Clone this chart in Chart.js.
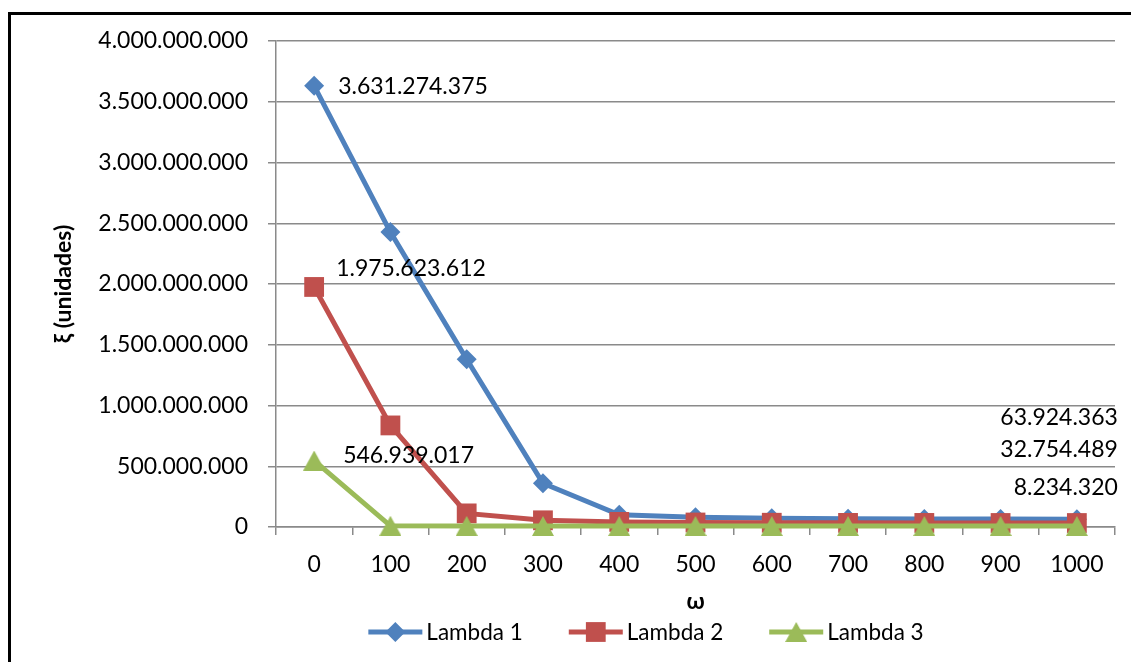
<!DOCTYPE html>
<html>
<head>
<meta charset="utf-8">
<script src="https://cdn.jsdelivr.net/npm/chart.js@4.4.1/dist/chart.umd.min.js"></script>
<style>
html, body { margin: 0; padding: 0; background: #fff; }
#wrap { position: relative; width: 1131px; height: 662px; overflow: hidden; }
#moldura { position: absolute; left: 8px; top: 12px; width: 1200px; height: 700px; border: 3px solid #000; box-sizing: border-box; }
canvas { position: absolute; left: 0; top: 0; }
</style>
</head>
<body>
<div id="wrap">
  <div id="moldura"></div>
  <canvas id="grafico" width="1131" height="662"></canvas>
</div>
<script>
// dados
const omega = ['0', '100', '200', '300', '400', '500', '600', '700', '800', '900', '1000'];
const lambda1 = [3631274375, 2427000000, 1380000000, 360000000, 100000000, 80000000, 72000000, 68000000, 66000000, 65000000, 63924363];
const lambda2 = [1975623612, 836000000, 112000000, 55000000, 42000000, 37000000, 35000000, 34000000, 33500000, 33000000, 32754489];
const lambda3 = [546939017, 10000000, 9000000, 8600000, 8500000, 8400000, 8350000, 8300000, 8280000, 8250000, 8234320];
const nomes = ['Lambda 1', 'Lambda 2', 'Lambda 3'];
const yTicks = [0, 500000000, 1000000000, 1500000000, 2000000000, 2500000000, 3000000000, 3500000000, 4000000000];

const fonte = 'Lato';
const cinza = '#8a8a8a';

// separador de milhar com ponto
const fmt = v => Math.round(v).toString().replace(/\B(?=(\d{3})+(?!\d))/g, '.');

// triangulo centrado na caixa (como no excel)
function triangulo(cor, w, h) {
    const c = document.createElement('canvas');
    c.width = w; c.height = h;
    const g = c.getContext('2d');
    g.fillStyle = cor;
    g.beginPath();
    g.moveTo(w / 2, 0);
    g.lineTo(w, h);
    g.lineTo(0, h);
    g.closePath();
    g.fill();
    return c;
}
const triVerde = triangulo('#9BBB59', 22, 20);

// legenda estilo excel: linha com marcador no meio
const legendaExcel = {
    id: 'legendaExcel',
    afterDraw(chart, args, opts) {
        const ctx = chart.ctx;
        ctx.save();
        ctx.font = opts.size + 'px ' + fonte;
        const itens = chart.data.datasets.map(ds => ({
            ds: ds,
            w: opts.lineLen + opts.gap + ctx.measureText(ds.label).width
        }));
        const total = itens.reduce((s, i) => s + i.w, 0) + opts.spacing * (itens.length - 1);
        let x = opts.centerX - total / 2;
        const y = opts.y;
        itens.forEach(it => {
            const ds = it.ds;
            ctx.strokeStyle = ds.borderColor;
            ctx.lineWidth = ds.borderWidth;
            ctx.beginPath();
            ctx.moveTo(x, y);
            ctx.lineTo(x + opts.lineLen, y);
            ctx.stroke();
            ctx.fillStyle = ds.pointBackgroundColor;
            Chart.helpers.drawPoint(ctx, { pointStyle: ds.pointStyle, radius: ds.pointRadius, borderWidth: 0, rotation: 0 }, x + opts.lineLen / 2, y);
            ctx.fillStyle = '#000';
            ctx.textAlign = 'left';
            ctx.textBaseline = 'middle';
            ctx.fillText(ds.label, x + opts.lineLen + opts.gap, y + 1);
            x += it.w + opts.spacing;
        });
        ctx.restore();
    }
};

// rotulos de dados no primeiro e ultimo ponto
const rotulos = {
    id: 'rotulos',
    afterDatasetsDraw(chart, args, opts) {
        const ctx = chart.ctx;
        ctx.save();
        ctx.font = opts.size + 'px ' + fonte;
        ctx.fillStyle = '#000';
        ctx.textBaseline = 'middle';
        opts.itens.forEach(r => {
            const pt = chart.getDatasetMeta(r.ds).data[r.idx];
            const v = chart.data.datasets[r.ds].data[r.idx];
            ctx.textAlign = r.align;
            ctx.fillText(fmt(v), pt.x + r.dx, pt.y + r.dy);
        });
        ctx.restore();
    }
};

Chart.defaults.font.family = fonte;
Chart.defaults.font.size = 23;
Chart.defaults.color = '#000';

const ctx = document.getElementById('grafico');
new Chart(ctx, {
    type: 'line',
    data: {
        labels: omega,
        datasets: [
            { label: nomes[0], data: lambda1, borderColor: '#4F81BD', pointBackgroundColor: '#4F81BD', pointStyle: 'rectRot', pointRadius: 10, order: 3 },
            { label: nomes[1], data: lambda2, borderColor: '#C0504D', pointBackgroundColor: '#C0504D', pointStyle: 'rect', pointRadius: 14, order: 2 },
            { label: nomes[2], data: lambda3, borderColor: '#9BBB59', pointBackgroundColor: '#9BBB59', pointStyle: triVerde, pointRadius: 11, order: 1 }
        ].map(d => Object.assign({ borderWidth: 5, pointBorderWidth: 0, pointHoverRadius: d.pointRadius, tension: 0, clip: false }, d))
    },
    options: {
        responsive: false,
        devicePixelRatio: 1,
        animation: false,
        layout: { padding: { left: 40, top: 41, right: 16, bottom: 45 } },
        plugins: {
            legend: { display: false },
            tooltip: { enabled: false },
            legendaExcel: { size: 22.5, lineLen: 54, gap: 4, spacing: 46, centerX: 646, y: 632 },
            rotulos: {
                size: 23,
                itens: [
                    { ds: 0, idx: 0, dx: 24, dy: 1, align: 'left' },
                    { ds: 1, idx: 0, dx: 22, dy: -18, align: 'left' },
                    { ds: 2, idx: 0, dx: 29, dy: -5, align: 'left' },
                    { ds: 0, idx: 10, dx: 41, dy: -102, align: 'right' },
                    { ds: 1, idx: 10, dx: 41, dy: -73, align: 'right' },
                    { ds: 2, idx: 10, dx: 41, dy: -38, align: 'right' }
                ]
            }
        },
        scales: {
            x: {
                offset: true,
                afterFit: s => { s.height = 90; },
                grid: { offset: true, drawOnChartArea: false, drawTicks: true, tickLength: 8, color: cinza, lineWidth: 1.5 },
                border: { color: cinza, width: 1.5 },
                ticks: { padding: 16, maxRotation: 0, autoSkip: false },
                title: { display: true, text: 'ω', font: { weight: 'bold', size: 23 }, padding: { top: 0, bottom: 2 } }
            },
            y: {
                min: 0,
                max: 4000000000,
                afterFit: s => { s.width = 236; },
                afterBuildTicks: s => { s.ticks = yTicks.map(v => ({ value: v })); },
                grid: { color: cinza, lineWidth: 1.5, tickLength: 8 },
                border: { color: cinza, width: 1.5 },
                ticks: { padding: 20, callback: v => fmt(v) },
                title: { display: true, text: 'ξ (unidades)', font: { weight: 'bold', size: 23 }, padding: { top: 10, bottom: 0 } }
            }
        }
    },
    plugins: [legendaExcel, rotulos]
});
</script>
</body>
</html>
